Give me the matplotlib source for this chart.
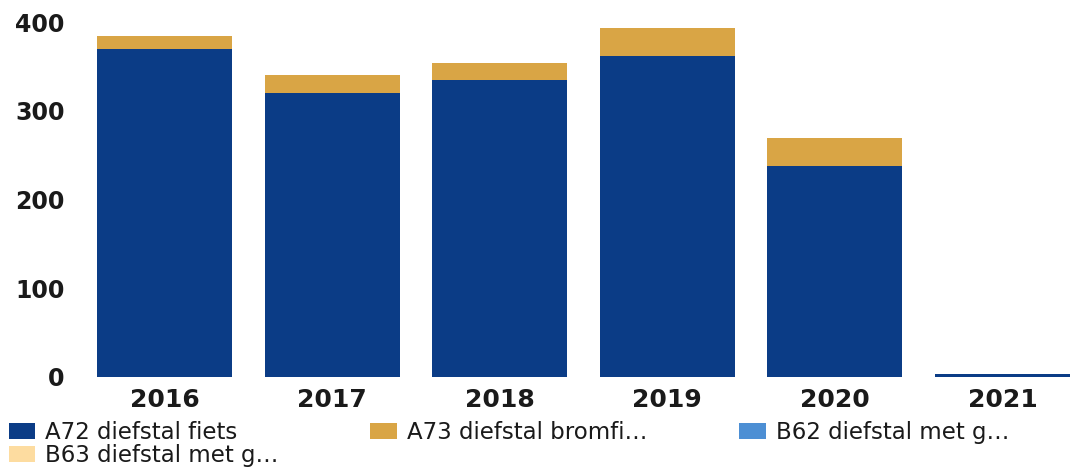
import numpy as np
import matplotlib
matplotlib.use('Agg')
import matplotlib.pyplot as plt
from matplotlib.patches import Patch

# data
years = ['2016', '2017', '2018', '2019', '2020', '2021']
a72_fiets = [370, 320, 335, 362, 238, 3]
a73_bromfiets = [14, 20, 19, 31, 31, 0]
b62_diefstal = [0, 0, 0, 0, 0, 0]
b63_diefstal = [0, 0, 0, 0, 0, 0]

labels = ['A72 diefstal fiets', 'A73 diefstal bromfi\u2026',
          'B62 diefstal met g\u2026', 'B63 diefstal met g\u2026']
colors = ['#0b3c86', '#d9a545', '#4d8fd4', '#fddca0']

fig = plt.figure(figsize=(10.78, 4.72), dpi=100)
ax = fig.add_axes([80.7 / 1078, 95 / 472, 1005.6 / 1078, 377 / 472])

x = np.arange(len(years))
width = 0.805
bottom = np.zeros(len(years))
for vals, col in zip([a72_fiets, a73_bromfiets, b62_diefstal, b63_diefstal], colors):
    ax.bar(x, vals, width, bottom=bottom, color=col, linewidth=0)
    bottom += np.array(vals)

ax.set_xlim(-0.5, 5.5)
ax.set_ylim(0, 425)
ax.set_yticks([0, 100, 200, 300, 400])
ax.set_xticks(x)
ax.set_xticklabels(years)
for s in ax.spines.values():
    s.set_visible(False)
ax.tick_params(axis='y', length=0, pad=11.5, labelsize=17)
ax.tick_params(axis='x', length=0, pad=8, labelsize=18)
for t in ax.get_xticklabels() + ax.get_yticklabels():
    t.set_fontweight('bold')
    t.set_color('#1a1a1a')

# legend order so column 1 holds A72 and B63
order = [0, 3, 1, 2]
handles = [Patch(facecolor=colors[i], edgecolor='none') for i in order]
fig.legend(handles, [labels[i] for i in order], ncol=3, frameon=False,
           loc='upper left', bbox_to_anchor=(0.008, (472 - 421) / 472),
           borderpad=0, borderaxespad=0, fontsize=16.5,
           handlelength=1.17, handleheight=0.74, handletextpad=0.43,
           labelspacing=0.0, columnspacing=4.0, labelcolor='#1a1a1a')

fig.savefig('out.png', dpi=100)
